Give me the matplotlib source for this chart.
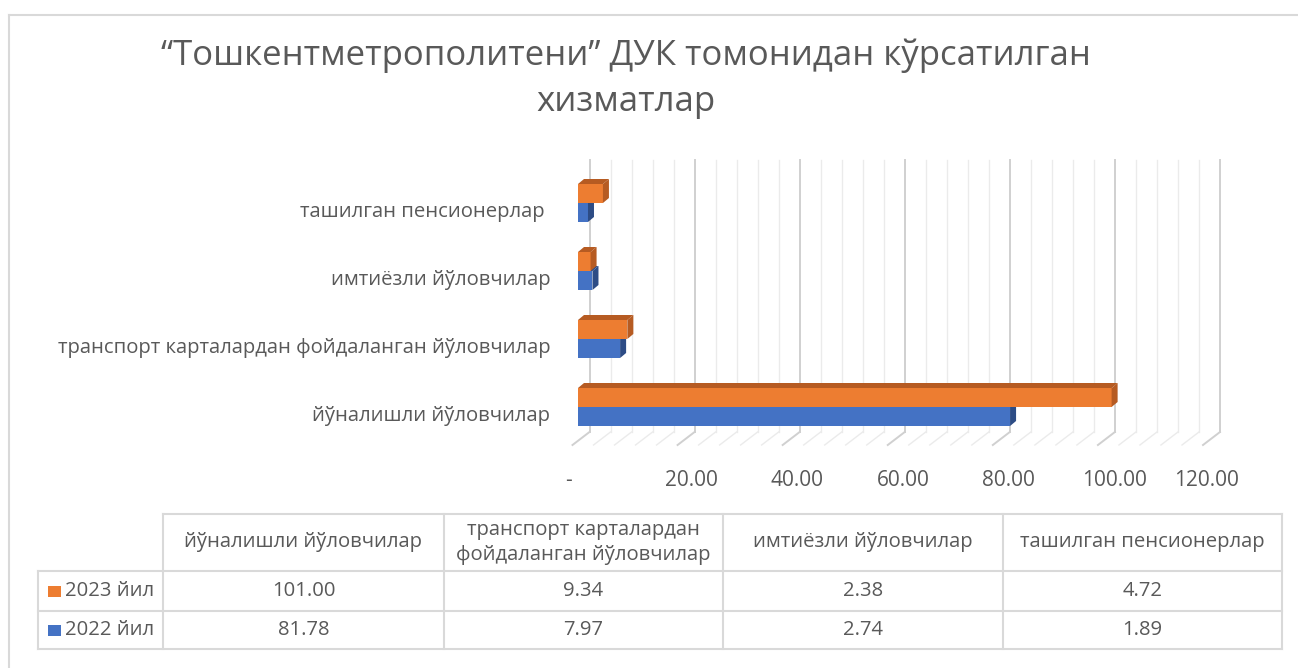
import matplotlib
matplotlib.use("Agg")
from matplotlib import pyplot as plt
from matplotlib.patches import Rectangle, Polygon
from matplotlib.transforms import ScaledTranslation
import numpy as np

# data
categories = ["йўналишли йўловчилар",
              "транспорт карталардан фойдаланган йўловчилар",
              "имтиёзли йўловчилар",
              "ташилган пенсионерлар "]
table_headers = ["йўналишли йўловчилар",
                 "транспорт карталардан\nфойдаланган йўловчилар",
                 "имтиёзли йўловчилар",
                 "ташилган пенсионерлар"]
series_names = ["2023 йил", "2022 йил"]
values_2023 = [101.00, 9.34, 2.38, 4.72]
values_2022 = [81.78, 7.97, 2.74, 1.89]
x_ticks = [0, 20, 40, 60, 80, 100, 120]
x_tick_labels = ["-", "20.00", "40.00", "60.00", "80.00", "100.00", "120.00"]

W, H = 1298, 668
plt.rcParams["font.family"] = ["Open Sans", "DejaVu Sans"]
grey = "#595959"
line_c = "#d9d9d9"
orange, orange_dk = "#ED7D31", "#B65B22"
blue, blue_dk = "#4472C4", "#2D4C85"
fs = 14.6

fig = plt.figure(figsize=(W / 100, H / 100), dpi=100)


def px_axes(x0, y0, x1, y1, **kw):
    # axes from pixel box (top-left origin)
    return fig.add_axes([x0 / W, 1 - y1 / H, (x1 - x0) / W, (y1 - y0) / H], **kw)


# page / layout layer
page = px_axes(0, 0, W, H, zorder=0)
page.set_xlim(0, W)
page.set_ylim(H, 0)
page.axis("off")
page.plot([9, W], [15, 15], color=line_c, lw=1.5)
page.plot([9, 9], [15, H], color=line_c, lw=1.5)

page.text(626, 56, "“Тошкентметрополитени” ДУК томонидан кўрсатилган",
          ha="center", va="center", fontsize=25, color=grey)
page.text(626, 102, "хизматлар", ha="center", va="center", fontsize=25, color=grey)

# back wall + floor
wall = px_axes(589.5, 160, 1220, 432, zorder=1)
wall.set_xlim(0, 120)
wall.set_ylim(0, 1)
wall.axis("off")
fdx = 17 / (630.5 / 120)
fdy = 13 / 272
for v in np.arange(0, 121, 4):
    major = v % 20 == 0
    c = "#d0d0d0" if major else "#ebebeb"
    lw = 1.4 if major else 1.0
    wall.plot([v, v], [0, 1], color=c, lw=lw, clip_on=False)
    wall.plot([v, v - fdx], [0, -fdy], color=c, lw=lw, clip_on=False)

# bars
ax = px_axes(578, 160, 1212, 445, zorder=2)
ax.patch.set_alpha(0)
ax.set_xlim(0, 120)
ax.set_ylim(-(445 - 407) / 68, (407 - 160) / 68)
for s in ax.spines.values():
    s.set_visible(False)

bh = 19 / 68
dx = 6 / (634 / 120)
dy = 5 / 68


def bar3d(y0, w, face, dark):
    ax.add_patch(Rectangle((0, y0), w, bh, facecolor=face, edgecolor="none"))
    ax.add_patch(Polygon([(0, y0 + bh), (w, y0 + bh), (w + dx, y0 + bh + dy), (dx, y0 + bh + dy)],
                         closed=True, facecolor=dark, edgecolor="none"))
    ax.add_patch(Polygon([(w, y0), (w + dx, y0 + dy), (w + dx, y0 + bh + dy), (w, y0 + bh)],
                         closed=True, facecolor=dark, edgecolor="none"))


for i in range(len(categories)):
    bar3d(i - bh, values_2022[i], blue, blue_dk)
    bar3d(i, values_2023[i], orange, orange_dk)

ax.set_xticks(x_ticks)
ax.set_xticklabels(x_tick_labels, fontsize=15, color=grey)
ax.set_yticks(range(len(categories)))
ax.set_yticklabels(categories, fontsize=fs, color=grey)
ax.tick_params(axis="both", length=0)
ax.tick_params(axis="x", pad=18)
ax.tick_params(axis="y", pad=20)
off = ScaledTranslation(0, -7 / 100, fig.dpi_scale_trans)
for lab in ax.get_yticklabels():
    lab.set_transform(lab.get_transform() + off)
xlabs = ax.get_xticklabels()
shifts = [-9, 8, 8, 8, 8, 8, -6]
for lab, sh in zip(xlabs, shifts):
    lab.set_transform(lab.get_transform() + ScaledTranslation(sh / 100, 0, fig.dpi_scale_trans))

# data table
cols = [163, 444, 723, 1003, 1282]
rows = [514, 571, 611, 649]
page.plot([cols[0], cols[-1]], [rows[0], rows[0]], color=line_c, lw=1.5)
for y in rows[1:]:
    page.plot([38, cols[-1]], [y, y], color=line_c, lw=1.5)
for x in cols:
    page.plot([x, x], [rows[0], rows[-1]], color=line_c, lw=1.5)
page.plot([38, 38], [rows[1], rows[-1]], color=line_c, lw=1.5)

for j, hdr in enumerate(table_headers):
    cx = (cols[j] + cols[j + 1]) / 2
    page.text(cx, (rows[0] + rows[1]) / 2, hdr, ha="center", va="center",
              fontsize=fs, color=grey, linespacing=1.3)

for r, (name, vals, col) in enumerate(zip(series_names, [values_2023, values_2022], [orange, blue])):
    cy = (rows[r + 1] + rows[r + 2]) / 2
    page.add_patch(Rectangle((48, cy - 5), 13, 11, facecolor=col, edgecolor="none"))
    page.text(65, cy, name, ha="left", va="center", fontsize=fs, color=grey)
    for j, v in enumerate(vals):
        cx = (cols[j] + cols[j + 1]) / 2
        page.text(cx, cy, f"{v:.2f}", ha="center", va="center", fontsize=fs, color=grey)

fig.savefig("out.png", dpi=100)
